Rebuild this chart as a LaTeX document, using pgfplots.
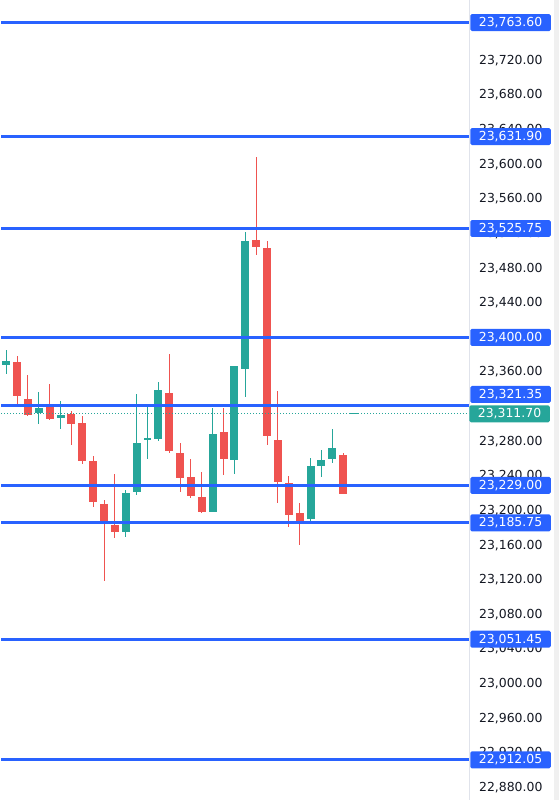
\documentclass[border=0pt]{standalone}
\usepackage{fontspec}
\setmainfont{DejaVu Sans}
\usepackage{pgfplots}
\pgfplotsset{compat=1.18}
\usepackage{pgfplotstable}

\definecolor{upgreen}{HTML}{26A69A}
\definecolor{downred}{HTML}{EF5350}
\definecolor{levelblue}{HTML}{2962FF}
\definecolor{ticktext}{HTML}{131722}
\definecolor{sepgray}{HTML}{E0E3EB}

% candles: i = bar index, o h l c
\pgfplotstableread{
i  o        h        l        c
0  23368.1  23385.4  23357.7  23372.7
3  23312.7  23336.9  23300.0  23318.5
5  23306.9  23326.5  23294.2  23310.4
11 23175.4  23223.8  23169.6  23220.4
12 23221.5  23334.6  23218.1  23278.1
13 23281.5  23323.1  23259.6  23283.8
14 23282.7  23348.5  23280.4  23339.2
19 23198.5  23318.5  23198.5  23288.5
21 23258.5  23366.9  23242.3  23366.9
22 23363.5  23521.5  23331.2  23511.2
28 23190.4  23260.8  23185.8  23251.5
29 23251.5  23270.0  23238.8  23258.5
30 23259.6  23294.2  23255.0  23272.3
}\upbars

\pgfplotstableread{
i  o        h        l        c
1  23371.5  23378.5  23321.9  23332.3
2  23328.8  23356.5  23309.2  23310.4
4  23323.1  23346.2  23304.6  23305.8
6  23311.5  23315.0  23275.8  23300.0
7  23301.2  23309.2  23253.8  23257.3
8  23257.3  23263.1  23204.2  23210.0
9  23207.7  23212.3  23118.8  23185.8
10 23183.5  23242.3  23168.5  23175.4
15 23335.8  23380.8  23266.5  23268.8
16 23266.5  23278.1  23221.5  23237.7
17 23238.8  23259.6  23214.6  23216.9
18 23215.8  23244.6  23197.3  23198.5
20 23290.8  23318.5  23241.2  23259.6
23 23512.3  23608.1  23495.0  23504.2
24 23503.1  23511.2  23275.8  23286.2
25 23281.5  23338.1  23208.8  23233.1
26 23231.9  23240.0  23181.2  23195.0
27 23197.3  23208.8  23160.4  23186.9
31 23264.2  23266.5  23219.2  23219.2
}\downbars

\pgfplotsset{
  wick/.style={draw=none, mark=none, forget plot,
    error bars/.cd, y dir=both, y explicit, error mark=none,
    error bar style={line width=1bp, draw=#1}},
  body/.style={draw=none, mark=none, forget plot,
    error bars/.cd, y dir=both, y explicit, error mark=none,
    error bar style={line width=8bp, draw=#1}},
}
\tikzset{
  pricetag/.style={anchor=west, fill=#1, text=white, rounded corners=1.5bp,
    minimum width=80.5bp, minimum height=17bp, inner sep=0pt,
    font=\fontsize{12.5}{15}\selectfont},
}

\newcommand{\level}[3][0bp]{%
  \addplot[levelblue, line width=2.8bp] coordinates {(-0.441,#2) (42.57,#2)}
    node[pos=1, pricetag=levelblue, yshift=#1] {#3};}

\begin{document}
\begin{tikzpicture}
\path (0,0) rectangle (558bp,800bp);
\begin{axis}[
    at={(0,0)}, anchor=south west,
    scale only axis, width=468bp, height=800bp,
    xmin=-0.441, xmax=42.57,
    ymin=22866.15, ymax=23789.2,
    clip=false, set layers,
    hide x axis,
    axis y line*=right,
    y axis line style={draw=sepgray, line width=0.8bp},
    ytick={22880,22920,22960,23000,23040,23080,23120,23160,23200,23240,23280,
      23360,23400,23440,23480,23520,23560,23600,23640,23680,23720,23760},
    scaled y ticks=false,
    major tick length=0pt,
    yticklabel={\pgfmathprintnumber[fixed, fixed zerofill, precision=2, 1000 sep={,}, assume math mode=true]{\tick}},
    yticklabel style={font=\fontsize{12.5}{15}\selectfont, text=ticktext,
      anchor=west, inner sep=0pt, xshift=10bp},
]
% wicks
\addplot[wick=upgreen] table[x=i, y expr={(\thisrow{h}+\thisrow{l})/2},
  y error expr={(\thisrow{h}-\thisrow{l})/2}] {\upbars};
\addplot[wick=downred] table[x=i, y expr={(\thisrow{h}+\thisrow{l})/2},
  y error expr={(\thisrow{h}-\thisrow{l})/2}] {\downbars};
% bodies
\addplot[body=upgreen] table[x=i, y expr={(\thisrow{o}+\thisrow{c})/2},
  y error expr={abs(\thisrow{c}-\thisrow{o})/2}] {\upbars};
\addplot[body=downred] table[x=i, y expr={(\thisrow{o}+\thisrow{c})/2},
  y error expr={abs(\thisrow{c}-\thisrow{o})/2}] {\downbars};
% current bar (doji)
\addplot[only marks, mark=-, mark size=4bp, mark options={line width=1bp, draw=upgreen}]
  coordinates {(32,23311.7)};

% last price
\addplot[upgreen, line width=0.8bp, dash pattern=on 1bp off 2bp]
  coordinates {(-0.441,23311.7) (42.57,23311.7)}
  node[pos=1, pricetag=upgreen] {23,311.70};

% horizontal levels
\level{23763.60}{23,763.60}
\level{23631.90}{23,631.90}
\level{23525.75}{23,525.75}
\level{23400.00}{23,400.00}
\level[11bp]{23321.35}{23,321.35}
\level{23229.00}{23,229.00}
\level{23185.75}{23,185.75}
\level{23051.45}{23,051.45}
\level{22912.05}{22,912.05}
\end{axis}
\fill[black!6] (553bp,0) rectangle (558bp,800bp);
\end{tikzpicture}
\end{document}
